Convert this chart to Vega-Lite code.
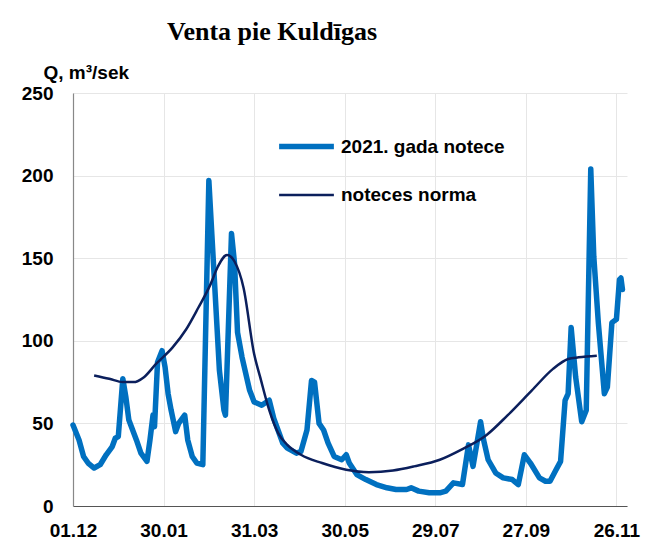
{
  "$schema": "https://vega.github.io/schema/vega-lite/v6.json",
  "autosize": {"type": "none"},
  "width": 554,
  "height": 413,
  "padding": {"left": 73, "top": 93, "right": 34, "bottom": 48},
  "background": "white",
  "title": {
    "text": "Venta pie Kuldīgas",
    "font": "Liberation Serif",
    "fontSize": 26,
    "fontWeight": "bold",
    "color": "#000000",
    "anchor": "middle",
    "dx": -78,
    "offset": 18
  },
  "config": {
    "view": {"stroke": null},
    "axis": {
      "labelFont": "Liberation Sans",
      "labelFontWeight": "bold",
      "labelFontSize": 19,
      "labelColor": "#000000",
      "gridColor": "#e6e6e6",
      "gridWidth": 1,
      "ticks": false
    },
    "legend": {
      "labelFont": "Liberation Sans",
      "labelFontWeight": "bold",
      "labelFontSize": 19,
      "labelColor": "#000000",
      "labelLimit": 400
    }
  },
  "data": {
    "values": [
      {"date": "2020-12-01", "series": "2021. gada notece", "q": 49},
      {"date": "2020-12-05", "series": "2021. gada notece", "q": 40},
      {"date": "2020-12-08", "series": "2021. gada notece", "q": 30},
      {"date": "2020-12-11", "series": "2021. gada notece", "q": 26},
      {"date": "2020-12-15", "series": "2021. gada notece", "q": 23},
      {"date": "2020-12-19", "series": "2021. gada notece", "q": 25},
      {"date": "2020-12-23", "series": "2021. gada notece", "q": 31},
      {"date": "2020-12-27", "series": "2021. gada notece", "q": 36},
      {"date": "2020-12-29", "series": "2021. gada notece", "q": 41},
      {"date": "2020-12-31", "series": "2021. gada notece", "q": 42},
      {"date": "2021-01-03", "series": "2021. gada notece", "q": 77},
      {"date": "2021-01-05", "series": "2021. gada notece", "q": 66},
      {"date": "2021-01-07", "series": "2021. gada notece", "q": 52},
      {"date": "2021-01-12", "series": "2021. gada notece", "q": 40},
      {"date": "2021-01-15", "series": "2021. gada notece", "q": 32},
      {"date": "2021-01-19", "series": "2021. gada notece", "q": 27},
      {"date": "2021-01-21", "series": "2021. gada notece", "q": 40},
      {"date": "2021-01-23", "series": "2021. gada notece", "q": 55},
      {"date": "2021-01-24", "series": "2021. gada notece", "q": 48},
      {"date": "2021-01-26", "series": "2021. gada notece", "q": 87},
      {"date": "2021-01-29", "series": "2021. gada notece", "q": 94},
      {"date": "2021-01-31", "series": "2021. gada notece", "q": 84},
      {"date": "2021-02-02", "series": "2021. gada notece", "q": 68},
      {"date": "2021-02-04", "series": "2021. gada notece", "q": 58},
      {"date": "2021-02-07", "series": "2021. gada notece", "q": 45},
      {"date": "2021-02-09", "series": "2021. gada notece", "q": 50},
      {"date": "2021-02-13", "series": "2021. gada notece", "q": 55},
      {"date": "2021-02-15", "series": "2021. gada notece", "q": 40},
      {"date": "2021-02-18", "series": "2021. gada notece", "q": 30},
      {"date": "2021-02-21", "series": "2021. gada notece", "q": 26},
      {"date": "2021-02-25", "series": "2021. gada notece", "q": 25},
      {"date": "2021-03-01", "series": "2021. gada notece", "q": 197},
      {"date": "2021-03-08", "series": "2021. gada notece", "q": 82},
      {"date": "2021-03-11", "series": "2021. gada notece", "q": 58},
      {"date": "2021-03-12", "series": "2021. gada notece", "q": 55},
      {"date": "2021-03-16", "series": "2021. gada notece", "q": 165},
      {"date": "2021-03-18", "series": "2021. gada notece", "q": 147},
      {"date": "2021-03-20", "series": "2021. gada notece", "q": 105},
      {"date": "2021-03-23", "series": "2021. gada notece", "q": 90},
      {"date": "2021-03-28", "series": "2021. gada notece", "q": 70},
      {"date": "2021-03-31", "series": "2021. gada notece", "q": 63},
      {"date": "2021-04-05", "series": "2021. gada notece", "q": 61},
      {"date": "2021-04-10", "series": "2021. gada notece", "q": 64},
      {"date": "2021-04-13", "series": "2021. gada notece", "q": 53},
      {"date": "2021-04-19", "series": "2021. gada notece", "q": 38},
      {"date": "2021-04-22", "series": "2021. gada notece", "q": 35},
      {"date": "2021-04-28", "series": "2021. gada notece", "q": 32},
      {"date": "2021-05-01", "series": "2021. gada notece", "q": 33},
      {"date": "2021-05-05", "series": "2021. gada notece", "q": 46},
      {"date": "2021-05-08", "series": "2021. gada notece", "q": 76},
      {"date": "2021-05-10", "series": "2021. gada notece", "q": 75},
      {"date": "2021-05-13", "series": "2021. gada notece", "q": 50},
      {"date": "2021-05-16", "series": "2021. gada notece", "q": 46},
      {"date": "2021-05-19", "series": "2021. gada notece", "q": 38},
      {"date": "2021-05-23", "series": "2021. gada notece", "q": 30},
      {"date": "2021-05-28", "series": "2021. gada notece", "q": 28},
      {"date": "2021-05-31", "series": "2021. gada notece", "q": 31},
      {"date": "2021-06-02", "series": "2021. gada notece", "q": 26},
      {"date": "2021-06-07", "series": "2021. gada notece", "q": 19},
      {"date": "2021-06-13", "series": "2021. gada notece", "q": 16},
      {"date": "2021-06-20", "series": "2021. gada notece", "q": 13},
      {"date": "2021-06-27", "series": "2021. gada notece", "q": 11},
      {"date": "2021-07-03", "series": "2021. gada notece", "q": 10},
      {"date": "2021-07-10", "series": "2021. gada notece", "q": 10},
      {"date": "2021-07-13", "series": "2021. gada notece", "q": 11},
      {"date": "2021-07-18", "series": "2021. gada notece", "q": 9},
      {"date": "2021-07-25", "series": "2021. gada notece", "q": 8},
      {"date": "2021-08-01", "series": "2021. gada notece", "q": 8},
      {"date": "2021-08-05", "series": "2021. gada notece", "q": 9},
      {"date": "2021-08-10", "series": "2021. gada notece", "q": 14},
      {"date": "2021-08-16", "series": "2021. gada notece", "q": 13},
      {"date": "2021-08-20", "series": "2021. gada notece", "q": 37},
      {"date": "2021-08-23", "series": "2021. gada notece", "q": 24},
      {"date": "2021-08-28", "series": "2021. gada notece", "q": 51},
      {"date": "2021-08-30", "series": "2021. gada notece", "q": 40},
      {"date": "2021-09-02", "series": "2021. gada notece", "q": 28},
      {"date": "2021-09-07", "series": "2021. gada notece", "q": 20},
      {"date": "2021-09-12", "series": "2021. gada notece", "q": 17},
      {"date": "2021-09-18", "series": "2021. gada notece", "q": 16},
      {"date": "2021-09-22", "series": "2021. gada notece", "q": 13},
      {"date": "2021-09-26", "series": "2021. gada notece", "q": 31},
      {"date": "2021-09-30", "series": "2021. gada notece", "q": 26},
      {"date": "2021-10-06", "series": "2021. gada notece", "q": 17},
      {"date": "2021-10-10", "series": "2021. gada notece", "q": 15},
      {"date": "2021-10-13", "series": "2021. gada notece", "q": 15},
      {"date": "2021-10-17", "series": "2021. gada notece", "q": 22},
      {"date": "2021-10-20", "series": "2021. gada notece", "q": 27},
      {"date": "2021-10-23", "series": "2021. gada notece", "q": 64},
      {"date": "2021-10-25", "series": "2021. gada notece", "q": 68},
      {"date": "2021-10-27", "series": "2021. gada notece", "q": 108},
      {"date": "2021-10-30", "series": "2021. gada notece", "q": 78},
      {"date": "2021-11-03", "series": "2021. gada notece", "q": 51},
      {"date": "2021-11-06", "series": "2021. gada notece", "q": 58},
      {"date": "2021-11-09", "series": "2021. gada notece", "q": 204},
      {"date": "2021-11-11", "series": "2021. gada notece", "q": 151},
      {"date": "2021-11-14", "series": "2021. gada notece", "q": 111},
      {"date": "2021-11-18", "series": "2021. gada notece", "q": 68},
      {"date": "2021-11-20", "series": "2021. gada notece", "q": 72},
      {"date": "2021-11-23", "series": "2021. gada notece", "q": 111},
      {"date": "2021-11-26", "series": "2021. gada notece", "q": 113},
      {"date": "2021-11-28", "series": "2021. gada notece", "q": 137},
      {"date": "2021-11-29", "series": "2021. gada notece", "q": 138},
      {"date": "2021-11-30", "series": "2021. gada notece", "q": 131},
      {"date": "2020-12-15", "series": "noteces norma", "q": 79},
      {"date": "2020-12-25", "series": "noteces norma", "q": 77},
      {"date": "2021-01-03", "series": "noteces norma", "q": 75},
      {"date": "2021-01-10", "series": "noteces norma", "q": 75},
      {"date": "2021-01-17", "series": "noteces norma", "q": 78},
      {"date": "2021-01-25", "series": "noteces norma", "q": 86},
      {"date": "2021-02-05", "series": "noteces norma", "q": 96},
      {"date": "2021-02-14", "series": "noteces norma", "q": 107},
      {"date": "2021-02-22", "series": "noteces norma", "q": 120},
      {"date": "2021-03-02", "series": "noteces norma", "q": 134},
      {"date": "2021-03-07", "series": "noteces norma", "q": 145},
      {"date": "2021-03-13", "series": "noteces norma", "q": 152},
      {"date": "2021-03-18", "series": "noteces norma", "q": 148},
      {"date": "2021-03-24", "series": "noteces norma", "q": 132},
      {"date": "2021-03-31", "series": "noteces norma", "q": 92},
      {"date": "2021-04-04", "series": "noteces norma", "q": 78},
      {"date": "2021-04-10", "series": "noteces norma", "q": 58},
      {"date": "2021-04-16", "series": "noteces norma", "q": 44},
      {"date": "2021-04-22", "series": "noteces norma", "q": 37},
      {"date": "2021-05-01", "series": "noteces norma", "q": 31},
      {"date": "2021-05-15", "series": "noteces norma", "q": 26},
      {"date": "2021-05-31", "series": "noteces norma", "q": 22},
      {"date": "2021-06-15", "series": "noteces norma", "q": 20.5},
      {"date": "2021-07-01", "series": "noteces norma", "q": 21.5},
      {"date": "2021-07-15", "series": "noteces norma", "q": 24},
      {"date": "2021-08-01", "series": "noteces norma", "q": 28},
      {"date": "2021-08-15", "series": "noteces norma", "q": 34},
      {"date": "2021-09-01", "series": "noteces norma", "q": 43},
      {"date": "2021-09-15", "series": "noteces norma", "q": 55},
      {"date": "2021-10-01", "series": "noteces norma", "q": 70},
      {"date": "2021-10-15", "series": "noteces norma", "q": 83},
      {"date": "2021-10-25", "series": "noteces norma", "q": 89},
      {"date": "2021-11-01", "series": "noteces norma", "q": 90},
      {"date": "2021-11-13", "series": "noteces norma", "q": 91}
    ],
    "format": {"parse": {"date": "utc:'%Y-%m-%d'"}}
  },
  "encoding": {
    "x": {
      "field": "date",
      "type": "temporal",
      "scale": {
        "type": "utc",
        "domain": [
          {"year": 2020, "month": 12, "date": 1, "utc": true},
          {"year": 2021, "month": 12, "date": 3, "utc": true}
        ]
      },
      "axis": {
        "title": null,
        "format": "%d.%m",
        "values": [
          {"year": 2020, "month": 12, "date": 1, "utc": true},
          {"year": 2021, "month": 1, "date": 30, "utc": true},
          {"year": 2021, "month": 3, "date": 31, "utc": true},
          {"year": 2021, "month": 5, "date": 30, "utc": true},
          {"year": 2021, "month": 7, "date": 29, "utc": true},
          {"year": 2021, "month": 9, "date": 27, "utc": true},
          {"year": 2021, "month": 11, "date": 26, "utc": true}
        ],
        "labelPadding": 15,
        "domainColor": "#555555",
        "domainWidth": 1.2,
        "labelFlush": false
      }
    },
    "y": {
      "field": "q",
      "type": "quantitative",
      "scale": {"domain": [0, 250], "nice": false},
      "axis": {
        "values": [0, 50, 100, 150, 200, 250],
        "title": "Q, m³/sek",
        "titleAngle": 0,
        "titleAlign": "left",
        "titleBaseline": "middle",
        "titleX": -30,
        "titleY": -21,
        "titleFont": "Liberation Sans",
        "titleFontSize": 19,
        "titleFontWeight": "bold",
        "titleColor": "#000000",
        "labelPadding": 20,
        "domainColor": "#888888",
        "domainWidth": 1.2
      }
    },
    "color": {
      "field": "series",
      "type": "nominal",
      "scale": {
        "domain": ["2021. gada notece", "noteces norma"],
        "range": ["#0070C0", "#0B1F5C"]
      },
      "legend": {
        "title": null,
        "orient": "none",
        "legendX": 203,
        "legendY": 23,
        "symbolType": "stroke",
        "symbolSize": 3000,
        "labelOffset": 4,
        "labelLimit": 400,
        "rowPadding": 8,
        "padding": 0
      }
    },
    "strokeWidth": {
      "field": "series",
      "type": "nominal",
      "scale": {
        "domain": ["2021. gada notece", "noteces norma"],
        "range": [5.5, 2.5]
      },
      "legend": {
        "title": null,
        "orient": "none",
        "legendX": 203,
        "legendY": 23,
        "symbolType": "stroke",
        "symbolSize": 3000,
        "labelOffset": 4,
        "labelLimit": 400,
        "rowPadding": 8,
        "padding": 0
      }
    }
  },
  "layer": [
    {
      "transform": [{"filter": "datum.series === '2021. gada notece'"}],
      "mark": {"type": "line", "interpolate": "linear", "strokeJoin": "round", "strokeCap": "round"}
    },
    {
      "transform": [{"filter": "datum.series === 'noteces norma'"}],
      "mark": {"type": "line", "interpolate": "monotone"}
    }
  ]
}
